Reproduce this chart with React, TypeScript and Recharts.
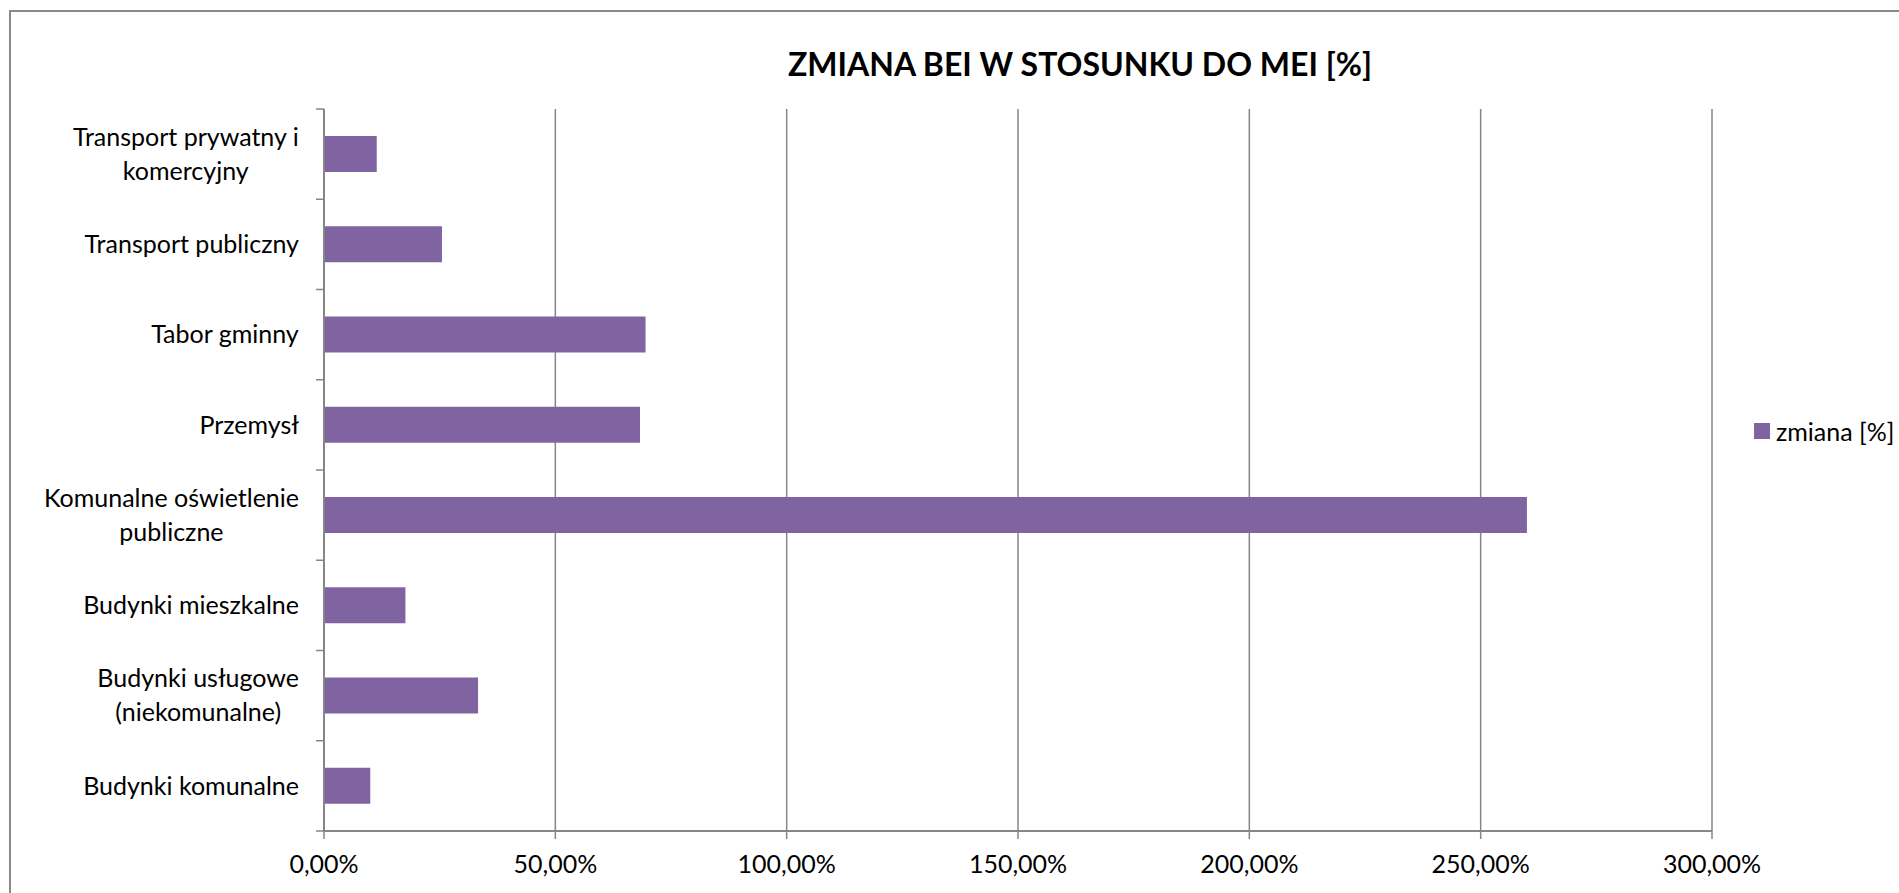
import React from 'react';
import { BarChart, Bar, XAxis, YAxis, CartesianGrid } from 'recharts';

const categories = [
  'Transport prywatny i\nkomercyjny',
  'Transport publiczny',
  'Tabor gminny',
  'Przemysł',
  'Komunalne oświetlenie\npubliczne',
  'Budynki mieszkalne',
  'Budynki usługowe\n(niekomunalne)',
  'Budynki komunalne',
];
const zmiana = [11.4, 25.5, 69.5, 68.3, 260.0, 17.6, 33.3, 10.0];
const xTicks = [0, 50, 100, 150, 200, 250, 300];
const seriesName = 'zmiana [%]';
const title = 'ZMIANA BEI W STOSUNKU DO MEI [%]';

const data = categories.map((name, i) => ({ name, zmiana: zmiana[i] }));

const FONT = 'Lato, "Open Sans", sans-serif';
const GRID = '#868686';
const PURPLE = '#8064A2';
const LABEL_SIZE = 25;
const TICK_SIZE = 8;
const TICK_MARGIN = 17;

let ctx: CanvasRenderingContext2D | null = null;
const measure = (s: string) => {
  if (!ctx) ctx = document.createElement('canvas').getContext('2d');
  if (!ctx) return s.length * LABEL_SIZE * 0.48;
  ctx.font = `${LABEL_SIZE}px ${FONT}`;
  return ctx.measureText(s).width;
};

// category label (lines centred as a block, right-aligned) plus the
// Excel-style tick mark on the boundary between categories
const CategoryTick = (props: any) => {
  const { x, y, payload, index, visibleTicksCount, height } = props;
  const half = payload.offset ?? height / visibleTicksCount / 2;
  const lines: string[] = String(payload.value).split('\n');
  const lineH = 34;
  const w = Math.max(...lines.map(measure));
  const cx = x - w / 2;
  const y0 = y - ((lines.length - 1) * lineH) / 2;
  const axisX = x + TICK_MARGIN + TICK_SIZE;
  const marks = [y - half];
  if (index === visibleTicksCount - 1) marks.push(y + half);
  return (
    <g>
      {marks.map((my, i) => (
        <line key={i} x1={axisX - TICK_SIZE} x2={axisX} y1={my} y2={my} stroke={GRID} strokeWidth={1.5} />
      ))}
      <text x={cx} y={y0} textAnchor="middle" fill="#000" fontSize={LABEL_SIZE} fontFamily={FONT}>
        {lines.map((l, i) => (
          <tspan key={i} x={cx} y={y0 + i * lineH} dy="0.35em">{l}</tspan>
        ))}
      </text>
    </g>
  );
};

const pct = (v: number) => `${v.toFixed(2).replace('.', ',')}%`;

export default function App() {
  return (
    <div style={{ position: 'absolute', left: 0, top: 0, width: 1899, height: 893, overflow: 'hidden', background: '#fff' }}>
      <div style={{ position: 'absolute', left: 9, top: 10, width: 2000, height: 1000, border: '2px solid #898989' }} />
      <div style={{
        position: 'absolute', left: 730, width: 700, top: 44, textAlign: 'center',
        fontFamily: FONT, fontWeight: 700, fontSize: 32, color: '#000', whiteSpace: 'nowrap',
      }}>
        {title}
      </div>
      <div style={{ position: 'absolute', left: 0, top: 0 }}>
        <BarChart
          width={1899}
          height={893}
          data={data}
          layout="vertical"
          barCategoryGap="30%"
          margin={{ top: 109, right: 187, bottom: 22, left: 0 }}
        >
          <CartesianGrid horizontal={false} stroke={GRID} strokeWidth={1.5} />
          <XAxis
            type="number"
            domain={[0, 300]}
            ticks={xTicks}
            tickFormatter={pct}
            height={40}
            axisLine={{ stroke: GRID, strokeWidth: 2 }}
            tickLine={{ stroke: GRID, strokeWidth: 1.5 }}
            tickSize={8}
            tickMargin={16}
            tick={{ fill: '#000', fontSize: LABEL_SIZE, fontFamily: FONT }}
            interval={0}
          />
          <YAxis
            type="category"
            dataKey="name"
            width={324}
            axisLine={{ stroke: GRID, strokeWidth: 2 }}
            tickLine={false}
            tickSize={TICK_SIZE}
            tickMargin={TICK_MARGIN}
            tick={<CategoryTick />}
            interval={0}
          />
          <Bar dataKey="zmiana" name={seriesName} fill={PURPLE} isAnimationActive={false} />
        </BarChart>
      </div>
      <div style={{
        position: 'absolute', left: 1754, top: 416, display: 'flex', alignItems: 'center',
        fontFamily: FONT, fontSize: LABEL_SIZE, color: '#000', whiteSpace: 'nowrap',
      }}>
        <span style={{ width: 16, height: 16, background: PURPLE, display: 'inline-block', marginRight: 6 }} />
        <span>{seriesName}</span>
      </div>
    </div>
  );
}
